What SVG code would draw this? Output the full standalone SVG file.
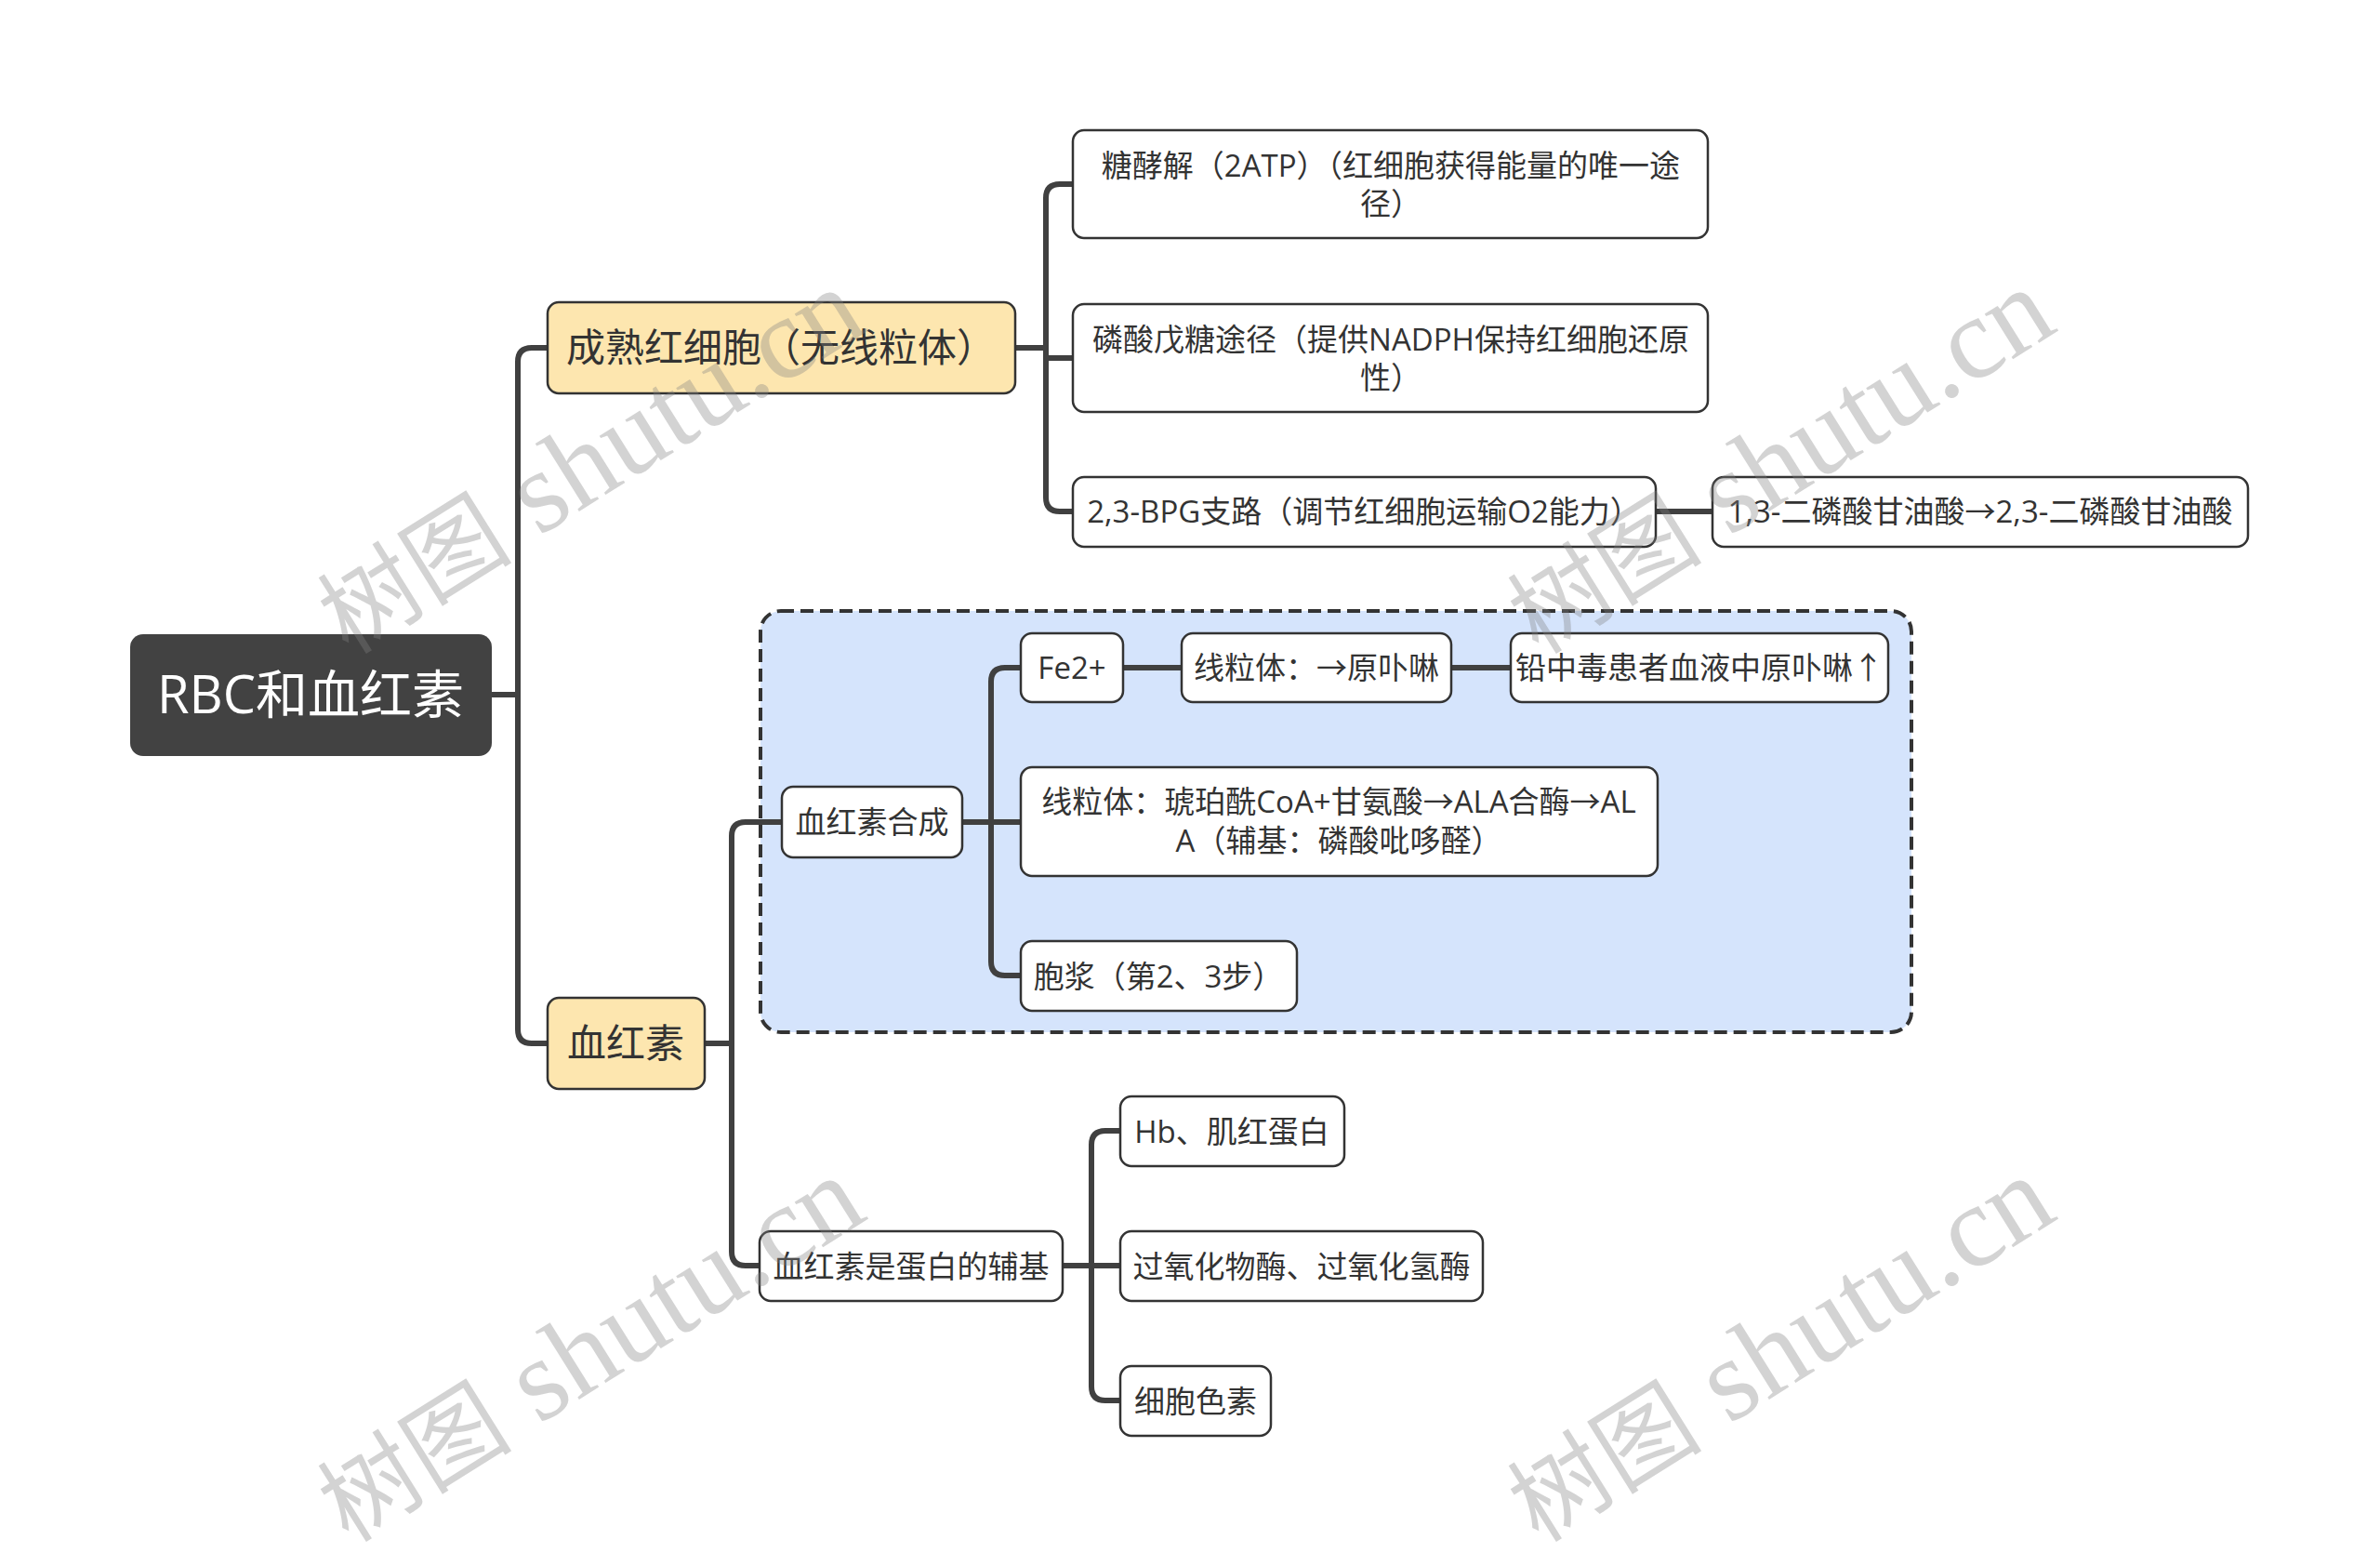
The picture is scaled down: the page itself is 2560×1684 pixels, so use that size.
<svg xmlns="http://www.w3.org/2000/svg" width="2560" height="1684" viewBox="0 0 2560 1684">
<style>
.bg{fill:#ffffff}
.node{fill:#ffffff;stroke:#333333;stroke-width:2.5}
.l1{fill:#FDE6AF;stroke:#333333;stroke-width:2.5}
.root{fill:#424242}
.grp{fill:#D5E4FC;stroke:#333333;stroke-width:4;stroke-dasharray:14 7}
.t{font-family:"Open Sans","Noto Sans CJK SC",sans-serif;font-size:33px;fill:#333333;text-anchor:middle}
.t1{font-family:"Open Sans","Noto Sans CJK SC",sans-serif;font-size:42px;fill:#333333;text-anchor:middle}
.tr{font-family:"Open Sans","Noto Sans CJK SC",sans-serif;font-size:56px;fill:#ffffff;text-anchor:middle}
.c{fill:none;stroke:#404040;stroke-width:6;stroke-linejoin:round}
.wm{font-family:"Liberation Serif","Noto Sans CJK SC",serif;font-size:125px;fill:#808080;fill-opacity:0.35}
.wmc{font-size:105px}
</style>
<rect class="bg" x="0" y="0" width="2560" height="1684"/>
<g id="group-box">
<rect class="grp" x="818" y="657" width="1238" height="453" rx="22"/>
</g>
<g id="connectors">
<path class="c" d="M529,747 H557 V389 Q557,374 572,374 H589"/>
<path class="c" d="M529,747 H557 V1107 Q557,1122 572,1122 H589"/>
<path class="c" d="M1092,374 H1125 V213 Q1125,198 1140,198 H1154"/>
<path class="c" d="M1092,374 H1125 V385 H1154"/>
<path class="c" d="M1092,374 H1125 V535 Q1125,550 1140,550 H1154"/>
<path class="c" d="M1781,550 H1842"/>
<path class="c" d="M758,1122 H787 V899 Q787,884 802,884 H841"/>
<path class="c" d="M758,1122 H787 V1346 Q787,1361 802,1361 H817"/>
<path class="c" d="M1035,884 H1066 V733 Q1066,718 1081,718 H1098"/>
<path class="c" d="M1035,884 H1098"/>
<path class="c" d="M1035,884 H1066 V1034 Q1066,1049 1081,1049 H1098"/>
<path class="c" d="M1208,718 H1271"/>
<path class="c" d="M1561,718 H1625"/>
<path class="c" d="M1143,1361 H1174 V1231 Q1174,1216 1189,1216 H1205"/>
<path class="c" d="M1143,1361 H1205"/>
<path class="c" d="M1143,1361 H1174 V1491 Q1174,1506 1189,1506 H1205"/>
</g>
<g id="root">
<rect class="root" x="140" y="682" width="389" height="131" rx="14"/>
<text class="tr" x="334" y="767">RBC和血红素</text>
</g>
<g id="n-mature">
<rect class="l1" x="589" y="325" width="503" height="98" rx="12"/>
<text class="t1" x="840" y="389">成熟红细胞（无线粒体）</text>
</g>
<g id="n-heme">
<rect class="l1" x="589" y="1073" width="169" height="98" rx="12"/>
<text class="t1" x="673" y="1137">血红素</text>
</g>
<g id="n-glycolysis">
<rect class="node" x="1154" y="140" width="683" height="116" rx="12"/>
<text class="t" x="1496" y="190">糖酵解（2ATP）（红细胞获得能量的唯一途</text>
<text class="t" x="1496" y="231">径）</text>
</g>
<g id="n-ppp">
<rect class="node" x="1154" y="327" width="683" height="116" rx="12"/>
<text class="t" x="1496" y="377">磷酸戊糖途径（提供NADPH保持红细胞还原</text>
<text class="t" x="1496" y="418">性）</text>
</g>
<g id="n-bpg">
<rect class="node" x="1154" y="513" width="627" height="75" rx="12"/>
<text class="t" x="1467" y="562">2,3-BPG支路（调节红细胞运输O2能力）</text>
</g>
<g id="n-bpg2">
<rect class="node" x="1842" y="513" width="576" height="75" rx="12"/>
<text class="t" x="2130" y="562">1,3-二磷酸甘油酸→2,3-二磷酸甘油酸</text>
</g>
<g id="n-synth">
<rect class="node" x="841" y="846" width="194" height="76" rx="12"/>
<text class="t" x="938" y="896">血红素合成</text>
</g>
<g id="n-fe">
<rect class="node" x="1098" y="681" width="110" height="74" rx="12"/>
<text class="t" x="1153" y="730">Fe2+</text>
</g>
<g id="n-proto">
<rect class="node" x="1271" y="681" width="290" height="74" rx="12"/>
<text class="t" x="1416" y="730">线粒体：→原卟啉</text>
</g>
<g id="n-lead">
<rect class="node" x="1625" y="681" width="406" height="74" rx="12"/>
<text class="t" x="1828" y="730">铅中毒患者血液中原卟啉↑</text>
</g>
<g id="n-ala">
<rect class="node" x="1098" y="825" width="685" height="117" rx="12"/>
<text class="t" x="1440" y="874">线粒体：琥珀酰CoA+甘氨酸→ALA合酶→AL</text>
<text class="t" x="1440" y="916">A（辅基：磷酸吡哆醛）</text>
</g>
<g id="n-cyto">
<rect class="node" x="1098" y="1012" width="297" height="75" rx="12"/>
<text class="t" x="1246" y="1062">胞浆（第2、3步）</text>
</g>
<g id="n-prosthetic">
<rect class="node" x="817" y="1324" width="326" height="75" rx="12"/>
<text class="t" x="980" y="1374">血红素是蛋白的辅基</text>
</g>
<g id="n-hb">
<rect class="node" x="1205" y="1179" width="241" height="75" rx="12"/>
<text class="t" x="1325" y="1229">Hb、肌红蛋白</text>
</g>
<g id="n-perox">
<rect class="node" x="1205" y="1324" width="390" height="75" rx="12"/>
<text class="t" x="1400" y="1374">过氧化物酶、过氧化氢酶</text>
</g>
<g id="n-cytc">
<rect class="node" x="1205" y="1469" width="162" height="75" rx="12"/>
<text class="t" x="1286" y="1519">细胞色素</text>
</g>
<g id="watermarks">
<text class="wm" transform="translate(375,705) rotate(-32)"><tspan class="wmc">树图</tspan> shutu.cn</text>
<text class="wm" transform="translate(1655,705) rotate(-32)"><tspan class="wmc">树图</tspan> shutu.cn</text>
<text class="wm" transform="translate(375,1660) rotate(-32)"><tspan class="wmc">树图</tspan> shutu.cn</text>
<text class="wm" transform="translate(1655,1660) rotate(-32)"><tspan class="wmc">树图</tspan> shutu.cn</text>
</g>
</svg>
